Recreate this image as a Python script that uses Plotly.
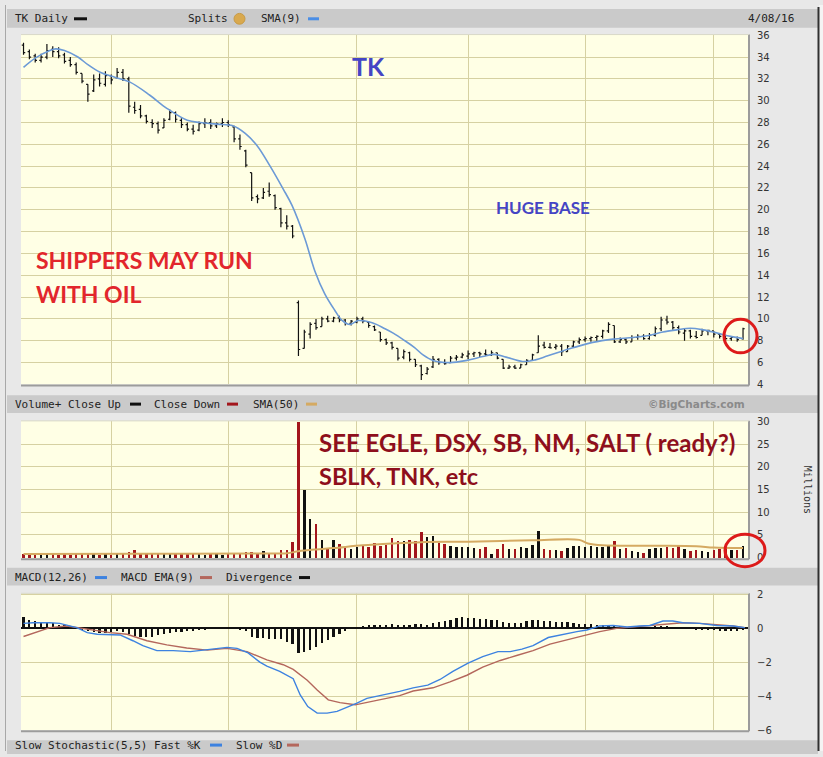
import plotly.graph_objects as go

W, H = 823, 757


def px(x):
    return x / W


def py(y):
    return 1 - y / H


# ---------------- data (TK daily, 12 Oct 2015 - 8 Apr 2016) ----------------
open_ = [35.1, 34.5, 34.1, 33.7, 34.0, 34.7, 34.5, 34.2, 33.7, 33.3,
         32.5, 31.5, 30.9, 32.0, 31.5, 32.3, 32.1, 32.6, 32.0, 29.4,
         29.2, 28.6, 28.0, 27.9, 27.5, 28.3, 28.9, 28.2, 27.8, 27.4,
         27.3, 27.9, 28.0, 27.7, 27.9, 28.0, 27.6, 26.5, 25.4, 23.4,
         21.2, 21.1, 21.7, 21.3, 20.1, 18.8, 18.5, 11.5, 7.3, 8.6,
         9.6, 9.3, 10.0, 9.8, 10.1, 9.9, 9.6, 9.7, 10.0, 9.7,
         9.3, 8.8, 8.1, 7.8, 7.3, 6.5, 6.9, 6.3, 5.7, 5.0,
         5.6, 6.3, 6.0, 6.0, 6.4, 6.5, 6.6, 6.8, 6.9, 6.8,
         6.7, 6.9, 6.3, 5.5, 5.6, 5.5, 5.8, 6.2, 6.9, 7.6,
         7.4, 7.4, 7.5, 7.0, 7.5, 7.9, 8.1, 8.2, 8.3, 8.4,
         8.9, 9.4, 7.9, 8.1, 7.9, 8.3, 8.4, 8.2, 8.5, 9.1,
         9.9, 9.7, 9.2, 8.7, 8.9, 8.4, 8.5, 8.9, 8.9, 8.6,
         8.4, 8.2, 8.3, 8.2]
high = [35.3, 34.7, 34.3, 34.3, 35.2, 35.0, 34.9, 34.4, 34.0, 33.5,
        32.5, 31.5, 32.4, 32.5, 32.7, 32.4, 33.0, 32.9, 32.2, 29.9,
        29.6, 28.7, 28.3, 28.1, 28.4, 29.2, 29.0, 28.4, 28.0, 27.8,
        28.1, 28.4, 28.3, 28.0, 28.4, 28.2, 27.7, 26.9, 25.5, 23.4,
        21.4, 22.0, 22.5, 21.4, 20.2, 19.5, 18.6, 11.7, 9.0, 9.7,
        10.0, 10.2, 10.3, 10.2, 10.3, 10.0, 9.9, 10.2, 10.2, 9.8,
        9.4, 8.8, 8.2, 7.9, 7.3, 7.2, 7.0, 6.3, 5.8, 5.6,
        6.6, 6.4, 6.3, 6.6, 6.7, 6.9, 7.1, 7.0, 7.0, 7.2,
        7.1, 6.9, 6.3, 5.8, 5.8, 5.9, 6.3, 6.8, 8.5, 7.9,
        7.8, 7.7, 7.7, 7.6, 8.0, 8.3, 8.4, 8.4, 8.5, 9.0,
        9.7, 9.4, 8.3, 8.2, 8.5, 8.6, 8.6, 8.7, 9.3, 10.2,
        10.3, 9.8, 9.4, 9.1, 9.0, 8.9, 9.1, 9.0, 8.9, 8.7,
        8.5, 8.4, 8.4, 9.2]
low = [34.2, 33.8, 33.5, 33.5, 33.8, 34.0, 33.9, 33.4, 33.1, 32.4,
       31.6, 29.9, 30.8, 31.3, 31.3, 31.5, 32.0, 31.8, 28.9, 28.8,
       28.4, 27.9, 27.5, 27.0, 27.5, 28.2, 28.0, 27.5, 27.2, 26.9,
       27.2, 27.5, 27.4, 27.5, 27.6, 27.6, 26.2, 25.5, 23.9, 20.8,
       20.6, 21.0, 21.2, 20.0, 18.4, 18.2, 17.4, 6.6, 7.3, 8.2,
       9.0, 9.3, 9.7, 9.7, 9.7, 9.4, 9.4, 9.6, 9.6, 9.2,
       8.9, 7.9, 7.6, 7.2, 6.2, 6.3, 6.1, 5.6, 4.4, 4.9,
       5.5, 5.8, 5.8, 6.0, 6.2, 6.4, 6.3, 6.5, 6.5, 6.6,
       6.6, 6.3, 5.4, 5.4, 5.4, 5.5, 5.8, 6.2, 6.9, 7.3,
       7.3, 7.2, 6.6, 7.0, 7.4, 7.7, 7.9, 7.9, 8.0, 8.2,
       8.7, 7.8, 7.8, 7.7, 7.9, 8.1, 8.1, 8.1, 8.4, 8.9,
       9.5, 9.0, 8.6, 8.0, 8.2, 8.2, 8.5, 8.5, 8.3, 8.2,
       8.0, 8.0, 7.9, 8.1]
close = [34.4, 34.0, 33.7, 34.0, 34.6, 34.5, 34.1, 33.6, 33.3, 32.6,
         31.8, 30.6, 31.9, 31.6, 32.3, 31.9, 32.6, 32.0, 29.5, 29.1,
         28.6, 28.1, 27.9, 27.3, 28.2, 28.9, 28.3, 27.8, 27.4, 27.2,
         27.9, 28.0, 27.7, 27.9, 28.0, 27.8, 26.5, 25.8, 24.1, 21.1,
         21.0, 21.6, 21.4, 20.2, 18.8, 18.5, 17.6, 7.2, 8.8, 9.5,
         9.2, 10.0, 9.8, 10.1, 9.9, 9.6, 9.8, 10.0, 9.8, 9.4,
         9.0, 8.1, 7.8, 7.4, 6.4, 7.0, 6.3, 5.8, 4.9, 5.4,
         6.3, 6.0, 5.9, 6.4, 6.5, 6.7, 6.8, 6.9, 6.8, 6.7,
         6.9, 6.4, 5.5, 5.6, 5.5, 5.8, 6.2, 6.7, 7.5, 7.4,
         7.35, 7.5, 7.0, 7.5, 7.9, 8.1, 8.2, 8.3, 8.4, 8.9,
         9.5, 7.9, 8.1, 7.9, 8.3, 8.4, 8.2, 8.5, 9.1, 9.9,
         9.7, 9.2, 8.8, 8.9, 8.4, 8.3, 8.9, 8.95, 8.6, 8.4,
         8.2, 8.3, 8.1, 9.1]
volume_m = [0.8, 0.7, 0.8, 0.7, 0.9, 0.8, 0.7, 0.8, 0.7, 1.0,
            0.8, 0.9, 0.8, 0.7, 0.8, 0.7, 0.9, 1.1, 1.3, 1.6,
            1.0, 0.8, 0.9, 0.8, 1.0, 0.8, 0.9, 0.8, 0.9, 0.8,
            0.8, 0.7, 0.9, 0.8, 0.7, 0.8, 0.9, 1.1, 1.2, 1.3,
            0.9, 1.5, 1.0, 1.0, 1.8, 1.8, 3.4, 30.0, 15.0, 8.6,
            7.4, 3.9, 1.9, 3.9, 3.0, 2.4, 2.0, 2.3, 2.7, 2.3,
            3.2, 2.5, 2.9, 4.4, 3.7, 3.7, 3.8, 3.6, 5.7, 4.5,
            4.7, 3.2, 3.0, 2.5, 2.4, 2.4, 2.3, 2.1, 2.0, 2.3,
            0.8, 2.0, 3.0, 2.0, 2.0, 2.4, 2.1, 2.8, 6.0, 2.0,
            1.6, 1.6, 1.4, 2.2, 2.6, 2.6, 2.4, 2.5, 2.3, 2.4,
            2.5, 3.6, 1.9, 2.2, 1.4, 1.2, 1.0, 2.0, 2.1, 2.2,
            2.4, 2.2, 2.8, 2.0, 1.5, 1.6, 1.4, 1.3, 1.8, 2.0,
            2.1, 1.8, 1.7, 2.6]
divergence = [0.62, 0.45, 0.42, 0.35, 0.30, 0.28, 0.20, 0.15, 0.10, 0.05,
              -0.10, -0.20, -0.25, -0.30, -0.28, -0.25, -0.20, -0.25, -0.35, -0.45,
              -0.55, -0.55, -0.50, -0.40, -0.35, -0.30, -0.25, -0.22, -0.20, -0.18,
              -0.12, -0.08, -0.05, -0.02, 0.0, 0.05, -0.02, -0.08, -0.20, -0.50,
              -0.60, -0.60, -0.62, -0.62, -0.65, -0.80, -0.95, -1.45, -1.40, -1.30,
              -1.10, -0.90, -0.70, -0.50, -0.35, -0.20, -0.05, 0.05, 0.12, 0.15,
              0.18, 0.15, 0.20, 0.22, 0.20, 0.18, 0.20, 0.25, 0.22, 0.20,
              0.30, 0.33, 0.40, 0.46, 0.60, 0.62, 0.60, 0.58, 0.55, 0.55,
              0.48, 0.45, 0.33, 0.30, 0.30, 0.32, 0.42, 0.45, 0.45, 0.42,
              0.40, 0.37, 0.35, 0.33, 0.30, 0.25, 0.23, 0.22, 0.20, 0.18,
              0.17, 0.15, 0.10, 0.08, 0.10, 0.08, 0.06, 0.08, 0.10, 0.12,
              0.10, 0.07, 0.03, 0.0, -0.05, -0.10, -0.12, -0.10, -0.12, -0.18,
              -0.15, -0.20, -0.18, -0.12]

# SMA(9) of price at these bar positions
sma9_at = [0, 2, 4.5, 5.5, 7, 9.3, 11, 13.1, 15.6, 18.2, 21.6, 24.5, 28, 30.2,
           33.1, 35.8, 37.9, 39.9, 42.1, 44.4, 45.9, 48.1, 49.8, 51.5, 53.2,
           54.4, 55.8, 57.2, 59.6, 61.8, 63.2, 65.2, 66.8, 68.3, 70, 72.9,
           75.8, 78.5, 80.5, 82.5, 85.3, 87.5, 89.5, 91.5, 93.9, 97.3, 100.8,
           104.2, 107.1, 109.3, 111.7, 114, 116.2, 118.6, 120.9, 123]
sma9 = [33.05, 33.9, 34.6, 34.75, 34.6, 34.0, 33.3, 32.6, 32.15, 31.7, 30.5,
        29.3, 28.2, 28.0, 27.85, 27.7, 27.0, 25.9, 24.05, 21.9, 20.4, 17.35,
        14.4, 12.3, 10.8, 9.9, 9.5, 9.85, 9.65, 9.1, 8.7, 8.0, 7.4, 6.7, 6.2,
        6.0, 6.2, 6.55, 6.75, 6.5, 6.1, 6.25, 6.6, 6.95, 7.35, 7.85, 8.15,
        8.3, 8.5, 8.8, 9.0, 9.15, 9.0, 8.7, 8.4, 8.2]

# SMA(50) of volume (millions)
vsma_at = [0, 20, 40, 45, 47, 50, 53, 58, 63, 68, 76, 87, 95, 96.5, 99, 108,
           115, 118, 123]
vsma = [0.8, 0.85, 0.9, 0.95, 1.4, 1.8, 2.1, 2.7, 3.1, 3.4, 3.5, 3.8, 3.9,
        3.1, 2.7, 2.6, 2.5, 2.2, 2.1]

# MACD(12,26) and its EMA(9)
macd_at = [0, 1.6, 4.5, 6.2, 9.1, 10.9, 12.6, 16.5, 18.7, 20.4, 22.8, 25.6,
           28.5, 31.4, 34.8, 36.5, 38.4, 40.4, 41.6, 43.8, 46.1, 47.3, 48.6,
           50.2, 51.9, 53.6, 55.3, 57, 58.7, 61.5, 64.3, 66.6, 69.1, 71.2,
           73.4, 76, 78.5, 81.1, 83.2, 85.2, 87.1, 89.7, 92.2, 94.6, 96.3,
           98.5, 100.8, 103.2, 105.4, 107.1, 109.3, 111, 112.7, 115.6, 118.5,
           121.3, 123.3]
macd = [0.29, 0.33, 0.33, 0.29, 0.04, -0.25, -0.35, -0.39, -0.73, -1.02,
        -1.31, -1.31, -1.37, -1.26, -1.12, -1.18, -1.45, -1.99, -2.22, -2.53,
        -2.96, -3.92, -4.6, -4.99, -4.99, -4.89, -4.66, -4.4, -4.12, -3.92,
        -3.71, -3.5, -3.34, -3.01, -2.53, -2.05, -1.66, -1.37, -1.37, -1.22,
        -1.02, -0.54, -0.35, -0.19, -0.1, 0.14, 0.17, 0.08, 0.14, 0.17, 0.43,
        0.43, 0.33, 0.29, 0.17, 0.14, 0.04]
ema_at = [0, 2.8, 4.5, 7.4, 10.9, 14.8, 17.7, 21.1, 24.5, 27.9, 31.4, 34.8,
          38.2, 41.6, 44.4, 46.1, 48.5, 50.2, 52.1, 54.1, 56.7, 58.7, 61.5,
          64.3, 66.6, 70, 72.9, 75.8, 78.5, 81.5, 84.3, 87.1, 90, 92.9, 95.6,
          98.5, 101.4, 104.2, 107.1, 110, 112.7, 115.6, 118.5, 121.3, 123.3]
ema = [-0.48, -0.15, 0.04, 0.14, -0.06, -0.25, -0.35, -0.73, -0.97, -1.16,
       -1.28, -1.18, -1.37, -1.86, -2.14, -2.42, -3.05, -3.63, -4.21, -4.37,
       -4.5, -4.35, -4.15, -3.96, -3.69, -3.5, -3.15, -2.76, -2.28, -1.89,
       -1.6, -1.31, -0.93, -0.68, -0.44, -0.19, 0.0, 0.08, 0.14, 0.23, 0.33,
       0.29, 0.23, 0.14, 0.04]

# first trading day of Nov, Dec, Jan, Feb, Mar, Apr (bar index)
month_start = [15, 35, 57, 76, 96, 118]
price_ticks = list(range(4, 37, 2))
vol_ticks = [0, 5, 10, 15, 20, 25, 30]
macd_ticks = [-6, -4, -2, 0, 2]

# ---------------- figure ----------------
idx = list(range(len(close)))
UP, DOWN = "#111111", "#a3161c"
vol_colors = [UP if i > 0 and close[i] >= close[i - 1] else DOWN for i in idx]

fig = go.Figure()
fig.add_trace(go.Ohlc(x=idx, open=open_, high=high, low=low, close=close,
                      increasing_line_color="#111111",
                      decreasing_line_color="#111111",
                      line_width=1.2, tickwidth=0.3,
                      xaxis="x", yaxis="y", hoverinfo="skip"))
fig.add_trace(go.Scatter(x=sma9_at, y=sma9, mode="lines",
                         line=dict(color="#6c9ad6", width=1.6, shape="spline"),
                         xaxis="x", yaxis="y", hoverinfo="skip"))
fig.add_trace(go.Bar(x=idx, y=volume_m, marker_color=vol_colors,
                     marker_line_width=0, width=0.42,
                     xaxis="x2", yaxis="y2", hoverinfo="skip"))
fig.add_trace(go.Scatter(x=vsma_at, y=vsma, mode="lines",
                         line=dict(color="#d5aa62", width=2, shape="spline"),
                         xaxis="x2", yaxis="y2", hoverinfo="skip"))
fig.add_trace(go.Bar(x=idx, y=divergence, marker_color="#111111",
                     marker_line_width=0, width=0.38,
                     xaxis="x3", yaxis="y3", hoverinfo="skip"))
fig.add_trace(go.Scatter(x=ema_at, y=ema, mode="lines",
                         line=dict(color="#b4675c", width=1.4),
                         xaxis="x3", yaxis="y3", hoverinfo="skip"))
fig.add_trace(go.Scatter(x=macd_at, y=macd, mode="lines",
                         line=dict(color="#3d82e0", width=1.4),
                         xaxis="x3", yaxis="y3", hoverinfo="skip"))

GRID = "#d6d1a2"
TICKFONT = dict(family="DejaVu Sans", size=10, color="#333333")
xcommon = dict(domain=[px(21), px(748)], range=[-0.43, 123.85],
               tickvals=month_start, showticklabels=False, ticks="",
               showgrid=True, gridcolor=GRID, gridwidth=1, zeroline=False,
               showline=False, fixedrange=True)
ycommon = dict(side="right", showgrid=True, gridcolor=GRID, gridwidth=1,
               ticks="", tickfont=TICKFONT, showline=False, fixedrange=True,
               ticklabelstandoff=8)

fig.update_layout(
    width=W, height=H, margin=dict(l=0, r=0, t=0, b=0),
    paper_bgcolor="#e8e8e8", plot_bgcolor="#ffffe5",
    showlegend=False, bargap=0,
    xaxis=dict(xcommon, anchor="y", rangeslider=dict(visible=False)),
    xaxis2=dict(xcommon, anchor="y2"),
    xaxis3=dict(xcommon, anchor="y3"),
    yaxis=dict(ycommon, domain=[py(385), py(30)], range=[4, 36.06],
               tickvals=price_ticks, zeroline=False, anchor="x"),
    yaxis2=dict(ycommon, domain=[py(561.5), py(422)], range=[-0.17, 30.15],
                tickvals=vol_ticks, zeroline=False, anchor="x2"),
    yaxis3=dict(ycommon, domain=[py(736), py(597)], range=[-6, 2.06],
                tickvals=macd_ticks, zeroline=True, zerolinecolor="#111111",
                zerolinewidth=1.5, anchor="x3"),
)

shapes = []
# header bars
for y0, y1 in [(4, 23), (396, 414), (571, 589), (746, 760)]:
    shapes.append(dict(type="rect", xref="paper", yref="paper",
                       x0=px(7), x1=px(818), y0=py(y1), y1=py(y0),
                       fillcolor="#cacaca", line_width=0, layer="below"))
# plot frames (shadowed bottom/right edges)
for top, bot in [(30, 385), (422, 561.5), (597, 736)]:
    shapes.append(dict(type="line", xref="paper", yref="paper",
                       x0=px(21), x1=px(749), y0=py(bot + 1), y1=py(bot + 1),
                       line=dict(color="#9c9c9c", width=2)))
    shapes.append(dict(type="line", xref="paper", yref="paper",
                       x0=px(749), x1=px(749), y0=py(bot + 1), y1=py(top),
                       line=dict(color="#9c9c9c", width=2)))
    shapes.append(dict(type="line", xref="paper", yref="paper",
                       x0=px(21), x1=px(749), y0=py(top), y1=py(top),
                       line=dict(color="#d8d8c8", width=1)))
# outer frame
shapes.append(dict(type="line", xref="paper", yref="paper", x0=px(5.5), x1=px(5.5),
                   y0=0, y1=1, line=dict(color="#a8a8a8", width=1)))
shapes.append(dict(type="rect", xref="paper", yref="paper", x0=px(819), x1=1,
                   y0=0, y1=1, fillcolor="#f4f4f4", line_width=0, layer="below"))
shapes.append(dict(type="line", xref="paper", yref="paper", x0=px(818.5), x1=px(818.5),
                   y0=0, y1=py(2), line=dict(color="#303030", width=2)))
# legend swatches in headers
for x0, x1, yy, col in [(74, 87, 14, "#111111"), (308, 319, 14, "#4a8ee6"),
                        (130, 141, 405, "#111111"), (227, 238, 405, "#a3161c"),
                        (306, 317, 405, "#d5aa62"),
                        (95, 107, 581, "#3d82e0"), (200, 212, 581, "#b4675c"),
                        (299, 310, 581, "#111111"),
                        (210, 222, 751, "#3d82e0"), (287, 299, 751, "#b4675c")]:
    shapes.append(dict(type="line", xref="paper", yref="paper",
                       x0=px(x0), x1=px(x1), y0=py(yy), y1=py(yy),
                       line=dict(color=col, width=3)))
# splits icon
shapes.append(dict(type="circle", xref="paper", yref="paper",
                   x0=px(234), x1=px(245), y0=py(19.5), y1=py(8.5),
                   fillcolor="#d9a94e", line=dict(color="#c79a45", width=1)))
# red highlight circles
shapes.append(dict(type="circle", xref="paper", yref="paper",
                   x0=px(724), x1=px(757), y0=py(353), y1=py(319),
                   line=dict(color="#dd1a1a", width=3)))
shapes.append(dict(type="circle", xref="paper", yref="paper",
                   x0=px(725), x1=px(765), y0=py(570), y1=py(537),
                   line=dict(color="#dd1a1a", width=3)))
fig.update_layout(shapes=shapes)

MONO = dict(family="DejaVu Sans Mono", size=11, color="#222222")
ann = []


def text(x, y, s, font, xanchor="left", yanchor="middle", **kw):
    ann.append(dict(x=px(x), y=py(y), xref="paper", yref="paper", text=s,
                    showarrow=False, xanchor=xanchor, yanchor=yanchor,
                    font=font, **kw))


text(13, 14, "TK Daily", MONO)
text(186, 14, "Splits", MONO)
text(259, 14, "SMA(9)", MONO)
text(796, 14, "4/08/16", MONO, xanchor="right")
text(13, 405, "Volume+ Close Up", MONO)
text(152, 405, "Close Down", MONO)
text(251, 405, "SMA(50)", MONO)
text(747, 405, "<b>©BigCharts.com</b>", dict(family="DejaVu Sans", size=10.5,
                                              color="#8a8a8a"), xanchor="right")
text(13, 581, "MACD(12,26)", MONO)
text(119, 581, "MACD EMA(9)", MONO)
text(224, 581, "Divergence", MONO)
text(13, 751, "Slow Stochastic(5,5) Fast %K", MONO)
text(234, 751, "Slow %D", MONO)
text(807, 492, "Millions", dict(family="DejaVu Sans Mono", size=10, color="#333333"),
     xanchor="center", textangle=90)

BIG = "Lato"
text(368, 62, "<b>TK</b>", dict(family=BIG, size=25, color="#4545c4"), xanchor="center")
text(543, 205, "<b>HUGE BASE</b>", dict(family=BIG, size=17, color="#4545c4"),
     xanchor="center")
text(34, 259, "<b>SHIPPERS MAY RUN</b>", dict(family=BIG, size=23, color="#e2262c"))
text(34, 293, "<b>WITH OIL</b>", dict(family=BIG, size=23, color="#e2262c"))
text(317, 444, "<b>SEE EGLE, DSX, SB, NM, SALT ( ready?)</b>",
     dict(family=BIG, size=24, color="#8e0f1c"))
text(317, 478, "<b>SBLK, TNK, etc</b>", dict(family=BIG, size=23.5, color="#8e0f1c"))
fig.update_layout(annotations=ann)

fig.write_html("out.html", config={"displayModeBar": False},
               post_script="document.body.style.margin='0';"
                           "document.body.style.overflow='hidden';")
